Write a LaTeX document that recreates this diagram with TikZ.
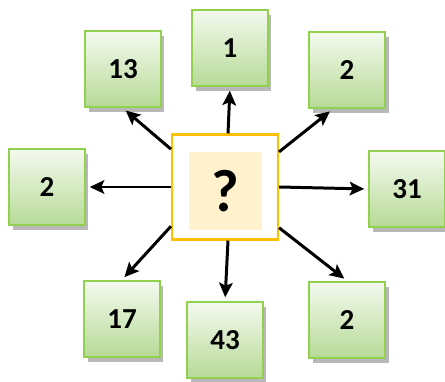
\documentclass[tikz,border=0pt]{standalone}
\usepackage{fontspec}
\setmainfont{Carlito}
\usetikzlibrary{arrows.meta,positioning,shadows}
\definecolor{boxline}{HTML}{92D050}
\definecolor{boxtop}{HTML}{F4FAEF}
\definecolor{boxbot}{HTML}{B6DA96}
\definecolor{qline}{HTML}{FFC000}
\definecolor{qfill}{HTML}{FFF2CC}
\begin{document}
\begin{tikzpicture}[x=0.02cm,y=-0.02cm]%
        \useasboundingbox (0,0) rectangle (445,381);%%
        \begin{scope}[shape=rectangle,minimum size=1.52cm,inner sep=0pt]
        \tikzstyle{every node}=[draw=boxline,line width=1.4pt,top color=boxtop,bottom color=boxbot,
                drop shadow={shadow xshift=0.07cm,shadow yshift=-0.1cm,fill=black!28,opacity=1},
                font=\fontsize{16.5}{18}\selectfont\bfseries] %%
        \node (n1) at (230,48)  {1}; %%
        \node (n2) at (123,69)  {13}; %%
        \node (n3) at (347,70)  {2}; %%
        \node (n4) at (47,187)  {2}; %%
        \node (n5) at (407,189)  {31}; %%
        \node (n6) at (122,319)  {17}; %%
        \node (n7) at (225,340)  {43}; %%
        \node (n8) at (347,320)  {2}; %%
        \end{scope}
        \node[draw=qline,line width=1.2pt,fill=white,minimum width=2.12cm,minimum height=2.1cm] (q) at (225,187) {}; %%
        \node[fill=qfill,minimum width=1.46cm,minimum height=1.56cm,inner sep=0pt,
              font=\fontsize{34}{36}\selectfont\bfseries] (qin) at (225.5,191) {?}; %%
        \tikzstyle{arr}=[-{Stealth[length=0.29cm,width=0.27cm,inset=0.06cm]},line width=1.7pt,shorten >=2pt]
        \draw[arr] ([xshift=0.06cm]q.north)--(n1.south); %%
        \draw[arr] (q.145)--(n2.south); %%
        \draw[arr] (q.33)--(n3.250); %%
        \draw[arr] (q.west)--(n4.east); %%
        \draw[arr] (q.east)--(n5.west); %%
        \draw[arr] (q.216)--(n6.north); %%
        \draw[arr] ([xshift=0.06cm]q.south)--(n7.north); %%
        \draw[arr] (q.323)--(n8.north); %%
        \end{tikzpicture}
\end{document}
